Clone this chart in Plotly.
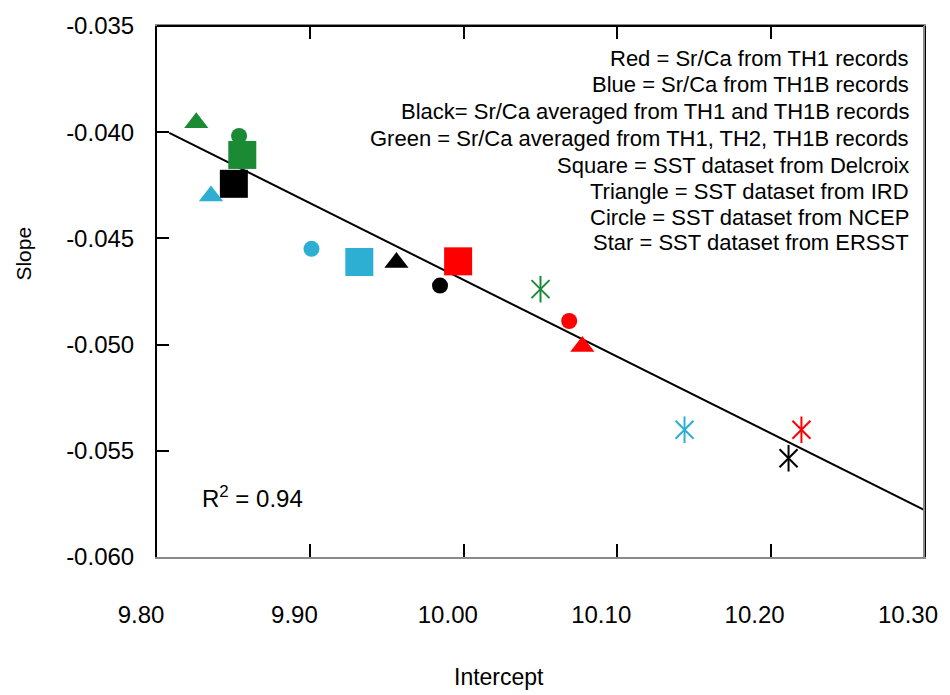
import plotly.graph_objects as go

# ---------------- data ----------------
# order inside every marker group: Red (TH1), Blue (TH1B), Black (TH1+TH1B), Green (TH1+TH2+TH1B)
square_x = [9.9963, 9.9319, 9.8501, 9.8556]      # Delcroix SST
square_y = [-0.04608, -0.04611, -0.04243, -0.04107]
triangle_x = [10.0773, 9.8352, 9.9561, 9.8256]   # IRD SST
triangle_y = [-0.05009, -0.04300, -0.04614, -0.03956]
circle_x = [10.0687, 9.9007, 9.9845, 9.8535]     # NCEP SST
circle_y = [-0.04889, -0.04549, -0.04722, -0.04018]
star_x = [10.2201, 10.1439, 10.2117, 10.0500]    # ERSST
star_y = [-0.05401, -0.05401, -0.05535, -0.04739]

fit_x = [9.808, 10.30]
fit_y = [-0.04003, -0.05778]

x_tick_vals = [9.80, 9.90, 10.00, 10.10, 10.20, 10.30]
x_tick_labels = ["9.80", "9.90", "10.00", "10.10", "10.20", "10.30"]
y_tick_vals = [-0.035, -0.040, -0.045, -0.050, -0.055, -0.060]
y_tick_labels = ["-0.035", "-0.040", "-0.045", "-0.050", "-0.055", "-0.060"]

legend_lines = [
    "Red = Sr/Ca from TH1 records",
    "Blue = Sr/Ca from TH1B records",
    "Black= Sr/Ca averaged from TH1 and TH1B records",
    "Green = Sr/Ca averaged from TH1, TH2, TH1B records",
    "Square = SST dataset from Delcroix",
    "Triangle = SST dataset from IRD",
    "Circle = SST dataset from NCEP",
    "Star = SST dataset from ERSST",
]
r2_text = "R<sup>2</sup> = 0.94"

# ---------------- style ----------------
COLORS = ["#FF0000", "#2CAFD3", "#000000", "#1B8A35"]
FONT = "Liberation Sans, Arial, sans-serif"
W, H = 950, 695
L, R, T, B = 157, 17, 19, 138
PLOT_H = H - T - B
PLOT_W = W - L - R


def py2paper(py):
    return 1 - (py - T) / PLOT_H


def px2paper(px):
    return (px - L) / PLOT_W


fig = go.Figure()

fig.add_trace(go.Scatter(x=fit_x, y=fit_y, mode="lines",
                         line=dict(color="black", width=2), hoverinfo="skip"))

fig.add_trace(go.Scatter(x=square_x, y=square_y, mode="markers",
                         marker=dict(symbol="square", size=28, color=COLORS, line=dict(width=0))))
fig.add_trace(go.Scatter(x=triangle_x, y=triangle_y, mode="markers",
                         marker=dict(symbol="triangle-up", size=21, color=COLORS, line=dict(width=0))))
fig.add_trace(go.Scatter(x=circle_x, y=circle_y, mode="markers",
                         marker=dict(symbol="circle", size=16, color=COLORS, line=dict(width=0))))
fig.add_trace(go.Scatter(x=star_x, y=star_y, mode="markers",
                         marker=dict(symbol="x-thin-open", size=18, color=COLORS, line=dict(width=2))))
fig.add_trace(go.Scatter(x=star_x, y=star_y, mode="markers",
                         marker=dict(symbol="line-ns-open", size=19, color=COLORS, line=dict(width=2))))

annotations = []
legend_py = [51.7, 78.3, 106.0, 133.3, 160.0, 186.7, 213.3, 238.3]
for txt, py in zip(legend_lines, legend_py):
    annotations.append(dict(text=txt, xref="paper", yref="paper", x=px2paper(920), y=py2paper(py),
                            xanchor="right", yanchor="middle", showarrow=False,
                            font=dict(family=FONT, size=22, color="black")))
annotations.append(dict(text=r2_text, xref="paper", yref="paper", x=px2paper(200), y=py2paper(496),
                        xanchor="left", yanchor="middle", showarrow=False,
                        font=dict(family=FONT, size=24, color="black")))
annotations.append(dict(text="Slope", xref="paper", yref="paper", x=px2paper(22), y=py2paper(250),
                        xanchor="center", yanchor="middle", textangle=-90, showarrow=False,
                        font=dict(family=FONT, size=21, color="black")))
annotations.append(dict(text="Intercept", xref="paper", yref="paper", x=px2paper(503), y=py2paper(679),
                        xanchor="center", yanchor="middle", showarrow=False,
                        font=dict(family=FONT, size=23, color="black")))

fig.update_layout(
    width=W, height=H,
    margin=dict(l=L, r=R, t=T, b=B),
    paper_bgcolor="white", plot_bgcolor="white",
    showlegend=False,
    font=dict(family=FONT, color="black"),
    annotations=annotations,
    shapes=[
        dict(type="line", xref="paper", yref="paper", x0=0, x1=1, y0=1, y1=1,
             line=dict(color="black", width=2)),
        dict(type="line", xref="paper", yref="paper", x0=1, x1=1, y0=0, y1=1,
             line=dict(color="#8a8a8a", width=2)),
    ],
)
fig.update_xaxes(range=[9.80, 10.30], tickvals=x_tick_vals, ticktext=x_tick_labels,
                 ticks="inside", ticklen=13, tickwidth=2, tickcolor="black",
                 showline=True, linecolor="#8a8a8a", linewidth=2, mirror="ticks",
                 showgrid=False, zeroline=False,
                 tickfont=dict(family=FONT, size=24, color="black"),
                 ticklabelstandoff=35, ticklabelshift=-16)
fig.update_yaxes(range=[-0.060, -0.035], tickvals=y_tick_vals, ticktext=y_tick_labels,
                 ticks="inside", ticklen=12, tickwidth=2, tickcolor="black",
                 showline=True, linecolor="black", linewidth=2, mirror=True,
                 showgrid=False, zeroline=False,
                 tickfont=dict(family=FONT, size=24, color="black"),
                 ticklabelstandoff=16)

fig.write_html("out.html")
